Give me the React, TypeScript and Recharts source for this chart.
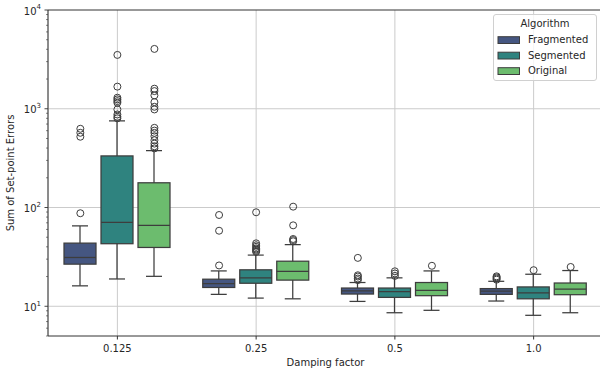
import React from 'react';
import {
  ComposedChart,
  Bar,
  Scatter,
  XAxis,
  YAxis,
  CartesianGrid,
  ReferenceLine,
} from 'recharts';

const categories = ['0.125', '0.25', '0.5', '1.0'];
const algorithms = ['Fragmented', 'Segmented', 'Original'];
const colors = ['#455681', '#2f837f', '#6cbc6e'];

// [lower whisker, Q1, median, Q3, upper whisker] for each damping factor
const fragmentedStats = [
  [16.1, 26.7, 31.2, 43.6, 65],
  [13.2, 15.5, 17.0, 18.8, 22.8],
  [11.2, 13.3, 14.3, 15.3, 17.4],
  [11.3, 13.2, 14.2, 15.1, 17.9],
];
const segmentedStats = [
  [18.9, 43, 70.8, 333, 755],
  [12.1, 17.1, 19.4, 23.4, 33],
  [8.6, 12.3, 14.1, 15.3, 19.4],
  [8.1, 11.9, 13.7, 15.7, 21.1],
];
const originalStats = [
  [20.1, 39.4, 66, 178, 377],
  [11.9, 18.4, 22.6, 28.6, 42],
  [9.1, 12.8, 14.5, 17.4, 22.8],
  [8.6, 13.1, 14.9, 17.2, 23],
];

const fragmentedOutliers = [
  [87.5, 521, 571, 627],
  [25.9, 58.2, 84],
  [18.4, 19.1, 20.0, 20.6, 30.9],
  [18.6, 19.1, 19.6, 20.1],
];
const segmentedOutliers = [
  [800, 830, 875, 984, 1150, 1195, 1245, 1294, 1675, 3509],
  [35.6, 36.5, 37.5, 38.5, 40, 41.5, 43.4, 89.5],
  [20.3, 21.5, 22.6],
  [23.2],
];
const originalOutliers = [
  [397, 417, 444, 480, 527, 570, 601, 641, 984, 1047, 1167, 1365, 1510, 1597, 4036],
  [45.5, 46.8, 48, 66, 102],
  [25.7],
  [25],
];

const yTicks = [
  5, 6, 7, 8, 9,
  10, 20, 30, 40, 50, 60, 70, 80, 90,
  100, 200, 300, 400, 500, 600, 700, 800, 900,
  1000, 2000, 3000, 4000, 5000, 6000, 7000, 8000, 9000,
  10000,
];
const majorTicks = [10, 100, 1000, 10000];

const statsBySeries = [fragmentedStats, segmentedStats, originalStats];
const outliersBySeries = [fragmentedOutliers, segmentedOutliers, originalOutliers];
const keys = ['frag', 'seg', 'orig'];

const EDGE = '#3d3d3d';
const SPINE = '#333333';
const FONT = 'DejaVu Sans, sans-serif';
const OUTLIER_OFFSET = 0.267;

const rows = categories.map((cat, i) => {
  const row: Record<string, any> = { cat };
  statsBySeries.forEach((s, k) => {
    const [lo, q1, med, q3, hi] = s[i];
    row[`${keys[k]}Whisker`] = [lo, hi];
    row[`${keys[k]}Box`] = [q1, q3];
    row[`${keys[k]}Median`] = [q1, med];
  });
  return row;
});

const outlierPoints = outliersBySeries.map((series, k) =>
  series.flatMap((vals, i) => vals.map((v) => ({ x: i + (k - 1) * OUTLIER_OFFSET, y: v })))
);

const WhiskerShape = (props: any) => {
  const { x, y, width, height } = props;
  const top = Math.min(y, y + height);
  const bottom = Math.max(y, y + height);
  const cx = x + width / 2;
  const cap = width / 4;
  return (
    <g stroke={EDGE} strokeWidth={1.25}>
      <line x1={cx} x2={cx} y1={top} y2={bottom} />
      <line x1={cx - cap} x2={cx + cap} y1={top} y2={top} />
      <line x1={cx - cap} x2={cx + cap} y1={bottom} y2={bottom} />
    </g>
  );
};

const BoxShape = (props: any) => {
  const { x, y, width, height, fill } = props;
  const top = Math.min(y, y + height);
  return (
    <rect x={x} y={top} width={width} height={Math.abs(height)} fill={fill} stroke={EDGE} strokeWidth={1.25} />
  );
};

const MedianShape = (props: any) => {
  const { x, y, width, height } = props;
  const top = Math.min(y, y + height);
  return <line x1={x} x2={x + width} y1={top} y2={top} stroke={EDGE} strokeWidth={1.25} />;
};

const OutlierShape = (props: any) => (
  <circle cx={props.cx} cy={props.cy} r={3.5} fill="none" stroke={EDGE} strokeWidth={1} />
);

const sup: Record<number, string> = { 10: '1', 100: '2', 1000: '3', 10000: '4' };

const YTick = (props: any) => {
  const { x, y, payload } = props;
  const major = majorTicks.includes(payload.value);
  return (
    <g>
      <line x1={x - (major ? 3.5 : 2)} x2={x} y1={y} y2={y} stroke={SPINE} strokeWidth={major ? 0.9 : 0.6} />
      {major && (
        <text x={x - 7} y={y + 4.6} textAnchor="end" fontSize={10} fill="#262626" fontFamily={FONT}>
          10
          <tspan dy={-5.2} fontSize={7}>{sup[payload.value]}</tspan>
        </text>
      )}
    </g>
  );
};

export default function App() {
  return (
    <div style={{ width: 600, height: 374, overflow: 'hidden', position: 'relative', background: '#fff' }}>
      <style>{'body{margin:0}'}</style>
      <ComposedChart
        width={603}
        height={374}
        data={rows}
        barGap={5}
        margin={{ top: 10, right: 0, bottom: 0, left: 0 }}
        style={{ fontFamily: FONT }}
      >
        <CartesianGrid
          xAxisId="cat"
          stroke="#cbcbcb"
          strokeWidth={1}
          horizontalValues={[10, 100, 1000]}
        />
        <XAxis
          xAxisId="cat"
          dataKey="cat"
          height={38}
          tickSize={3.5}
          tickMargin={5}
          tick={{ fontSize: 10, fill: '#262626', fontFamily: FONT }}
          tickLine={{ stroke: SPINE }}
          axisLine={{ stroke: SPINE, strokeWidth: 1 }}
          label={(p: any) => (
            <text
              x={p.viewBox.x + p.viewBox.width / 2}
              y={p.viewBox.y + 30}
              textAnchor="middle"
              fontSize={10}
              fill="#262626"
              fontFamily={FONT}
            >
              Damping factor
            </text>
          )}
        />
        <XAxis xAxisId="catBox" dataKey="cat" hide />
        <XAxis xAxisId="catMed" dataKey="cat" hide />
        <XAxis xAxisId="pts" type="number" dataKey="x" domain={[-0.5, 3.5]} hide />
        <YAxis
          scale="log"
          domain={[5, 10000]}
          allowDataOverflow
          ticks={yTicks}
          interval={0}
          width={48}
          tickSize={0}
          tickMargin={0}
          tickLine={false}
          tick={<YTick />}
          axisLine={{ stroke: SPINE, strokeWidth: 1 }}
          label={(p: any) => (
            <text
              x={14}
              y={p.viewBox.y + p.viewBox.height / 2}
              transform={`rotate(-90 14 ${p.viewBox.y + p.viewBox.height / 2})`}
              textAnchor="middle"
              fontSize={10}
              fill="#262626"
              fontFamily={FONT}
            >
              Sum of Set-point Errors
            </text>
          )}
        />
        {keys.map((k, i) => (
          <Bar
            key={`${k}-w`}
            xAxisId="cat"
            dataKey={`${k}Whisker`}
            barSize={32}
            fill={colors[i]}
            shape={<WhiskerShape />}
            isAnimationActive={false}
          />
        ))}
        {keys.map((k, i) => (
          <Bar
            key={`${k}-b`}
            xAxisId="catBox"
            dataKey={`${k}Box`}
            barSize={32}
            fill={colors[i]}
            shape={<BoxShape />}
            isAnimationActive={false}
          />
        ))}
        {keys.map((k, i) => (
          <Bar
            key={`${k}-m`}
            xAxisId="catMed"
            dataKey={`${k}Median`}
            barSize={32}
            fill={colors[i]}
            shape={<MedianShape />}
            isAnimationActive={false}
          />
        ))}
        {outlierPoints.map((pts, i) => (
          <Scatter
            key={`out-${i}`}
            xAxisId="pts"
            data={pts}
            dataKey="y"
            shape={<OutlierShape />}
            isAnimationActive={false}
          />
        ))}
        <ReferenceLine xAxisId="cat" y={10000} stroke={SPINE} strokeWidth={1} />
      </ComposedChart>

      {/* Legend */}
      <svg
        width={104}
        height={68}
        style={{ position: 'absolute', left: 493, top: 14 }}
        fontFamily={FONT}
      >
        <rect x={0.5} y={0.5} width={103} height={66} rx={2.5} fill="#fff" fillOpacity={0.8} stroke="#d0d0d0" />
        <text x={52} y={13.3} textAnchor="middle" fontSize={10} fill="#262626">
          Algorithm
        </text>
        {algorithms.map((name, i) => (
          <g key={name}>
            <rect x={5} y={22.7 + i * 15.5} width={21.5} height={6.8} fill={colors[i]} stroke={EDGE} strokeWidth={1} />
            <text x={35} y={29.3 + i * 15.5} fontSize={10} fill="#262626">
              {name}
            </text>
          </g>
        ))}
      </svg>
    </div>
  );
}
